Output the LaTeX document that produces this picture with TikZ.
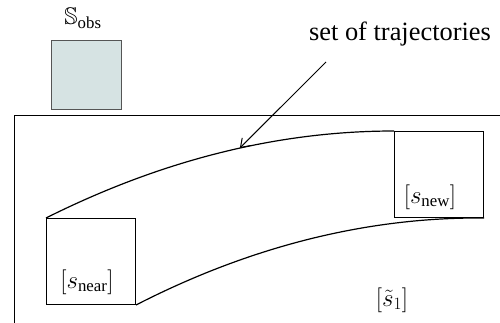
\documentclass[tikz,border=0pt]{standalone}
\usepackage{amssymb}
\usepackage{amsmath}
\usepackage{fontspec}
\setmainfont{Liberation Serif}
\newfontfamily\trajfont{Liberation Serif}
\usetikzlibrary{arrows.meta}
\definecolor{obsfill}{RGB}{214,227,227}
\definecolor{obsline}{RGB}{85,85,85}
\begin{document}
\begin{tikzpicture}[x=1pt,y=-1pt,
  box/.style={draw=black,line width=1pt,minimum width=89pt,minimum height=86pt,inner sep=0pt,anchor=north west},
  obsbox/.style={draw=obsline,fill=obsfill,line width=1pt,minimum width=70pt,minimum height=69pt,inner sep=0pt,anchor=north west},
  lbl/.style={font=\fontsize{24}{28}\selectfont,inner sep=0pt,anchor=base},
  txt/.style={font=\trajfont\fontsize{26.4}{30}\selectfont,inner sep=0pt,anchor=base},
  curve/.style={line width=1.2pt},
  pointer/.style={line width=1pt,-{Straight Barb[length=8pt,width=11pt]}}]
\useasboundingbox (0,0) rectangle (500,323);
% domain border
\draw[line width=1pt] (14,323) -- (14,116) -- (500,116);
% obstacle
\node[obsbox] (obs) at (51,40) {};
\node[lbl] (obslbl) at (83,25) {$\mathbb{S}_{\text{obs}}$};
% boxes
\node[box] (near) at (46,218) {};
\node[box] (new) at (394,131) {};
\node[lbl] (nearlbl) at (87,288) {$[s_{\text{near}}]$};
\node[lbl] (newlbl) at (430,203) {$[s_{\text{new}}]$};
\node[lbl] (s1lbl) at (392,306) {$[\tilde{s}_1]$};
% trajectories
\draw[curve] (near.north west) .. controls (162,160) and (278,131) .. coordinate[pos=0.557] (hit) (new.north west);
\draw[curve] (near.south east) .. controls (251,246) and (368,217) .. (new.south east);
% label and pointer
\node[txt] (traj) at (400,41) {set of trajectories};
\coordinate (pstart) at (326,62);
\draw[pointer] (pstart) -- (hit);
\end{tikzpicture}
\end{document}
